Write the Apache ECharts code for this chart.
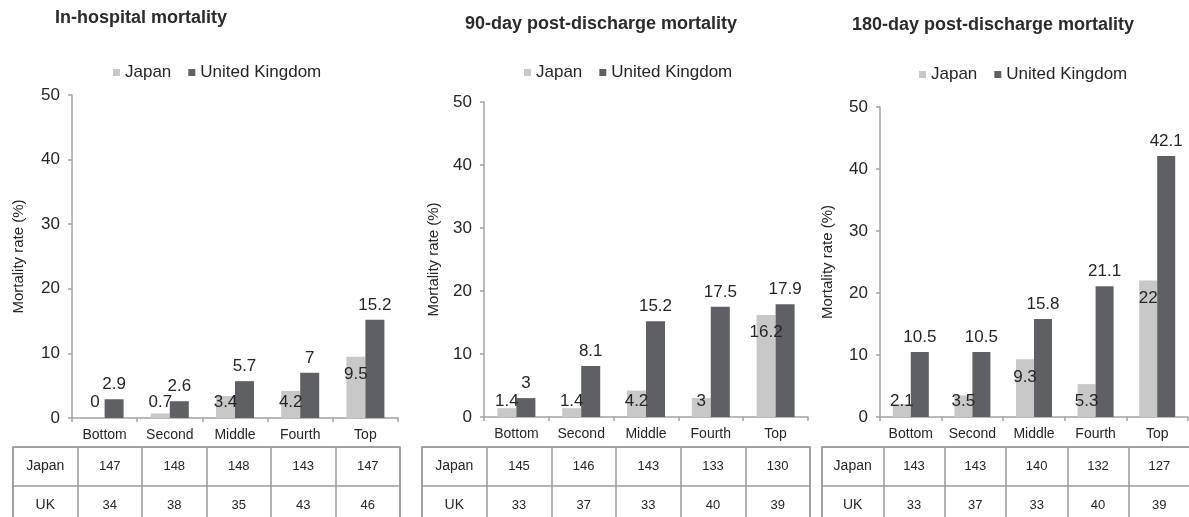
<!DOCTYPE html>
<html>
<head>
<meta charset="utf-8">
<script src="https://cdn.jsdelivr.net/npm/echarts@6/dist/echarts.min.js"></script>
<style>
html,body{margin:0;padding:0;background:#fff;}
#chart{width:1189px;height:517px;}
</style>
</head>
<body>
<div id="chart"></div>
<script>
// ---- data ----
const categories = ['Bottom', 'Second', 'Middle', 'Fourth', 'Top'];
const panelTitles = ['In-hospital mortality', '90-day post-discharge mortality', '180-day post-discharge mortality'];
const seriesNames = ['Japan', 'United Kingdom'];
const rowNames = ['Japan', 'UK'];
const yTicks = [0, 10, 20, 30, 40, 50];

const inHospitalJapan = [0, 0.7, 3.4, 4.2, 9.5];
const inHospitalUK = [2.9, 2.6, 5.7, 7, 15.2];
const day90Japan = [1.4, 1.4, 4.2, 3, 16.2];
const day90UK = [3, 8.1, 15.2, 17.5, 17.9];
const day180Japan = [2.1, 3.5, 9.3, 5.3, 22];
const day180UK = [10.5, 10.5, 15.8, 21.1, 42.1];

const nInHospitalJapan = [147, 148, 148, 143, 147];
const nInHospitalUK = [34, 38, 35, 43, 46];
const nDay90Japan = [145, 146, 143, 133, 130];
const nDay90UK = [33, 37, 33, 40, 39];
const nDay180Japan = [143, 143, 140, 132, 127];
const nDay180UK = [33, 37, 33, 40, 39];

// ---- layout / style ----
const FONT = '"Liberation Sans", Arial, sans-serif';
const TEXT = '#262626';
const AXIS = '#a3a3a3';
const C_JP = '#c8c8c8';
const C_UK = '#5f6064';
const TABLE_LINE = '#9a9a9a';

const panels = [
  { title: panelTitles[0], jp: inHospitalJapan, uk: inHospitalUK, nJp: nInHospitalJapan, nUk: nInHospitalUK,
    titleLeft: 55, titleTop: 9, legendLeft: 113, legendTop: 64,
    grid: { left: 72, top: 95, width: 326, height: 323 }, nameGap: 46, barWidth: 19,
    table: { left: 13, top: 447, width: 387, height: 78 } },
  { title: panelTitles[1], jp: day90Japan, uk: day90UK, nJp: nDay90Japan, nUk: nDay90UK,
    titleLeft: 465, titleTop: 15, legendLeft: 524, legendTop: 64,
    grid: { left: 484, top: 102, width: 324, height: 315 }, nameGap: 43, barWidth: 19,
    table: { left: 422, top: 447, width: 388, height: 78 } },
  { title: panelTitles[2], jp: day180Japan, uk: day180UK, nJp: nDay180Japan, nUk: nDay180UK,
    titleLeft: 852, titleTop: 16, legendLeft: 919, legendTop: 66,
    grid: { left: 880, top: 107, width: 308, height: 310 }, nameGap: 45, barWidth: 18,
    table: { left: 822, top: 447, width: 368, height: 78 } }
];

const option = {
  animation: false,
  backgroundColor: '#fff',
  textStyle: { fontFamily: FONT },
  title: [], legend: [], grid: [], xAxis: [], yAxis: [], series: []
};

panels.forEach((p, k) => {
  option.title.push({
    text: p.title, left: p.titleLeft, top: p.titleTop, padding: 0,
    textStyle: { fontFamily: FONT, fontSize: 18, fontWeight: 'bold', color: '#2b2b2b' }
  });
  option.legend.push({
    data: seriesNames, left: p.legendLeft, top: p.legendTop, padding: 0,
    icon: 'rect', itemWidth: 7, itemHeight: 7, itemGap: 17,
    textStyle: { fontFamily: FONT, fontSize: 17, color: TEXT }
  });
  // bar grid
  option.grid.push(Object.assign({ containLabel: false, outerBoundsMode: 'none' }, p.grid));
  const gi = option.grid.length - 1;
  option.xAxis.push({
    type: 'category', gridIndex: gi, data: categories,
    axisLine: { lineStyle: { color: AXIS, width: 1.5 } },
    axisTick: { show: true, length: 4, lineStyle: { color: AXIS, width: 1.5 } },
    axisLabel: { fontFamily: FONT, fontSize: 14, color: TEXT, margin: 10, interval: 0 }
  });
  option.yAxis.push({
    type: 'value', gridIndex: gi, min: yTicks[0], max: yTicks[yTicks.length - 1], interval: 10,
    name: 'Mortality rate (%)', nameLocation: 'middle', nameGap: p.nameGap, nameRotate: 90,
    nameTextStyle: { fontFamily: FONT, fontSize: 15, color: TEXT },
    axisLine: { show: true, lineStyle: { color: AXIS, width: 1.5 } },
    axisTick: { show: true, length: 4, lineStyle: { color: AXIS, width: 1.5 } },
    axisLabel: { fontFamily: FONT, fontSize: 17, color: TEXT, margin: 12 },
    splitLine: { show: false }
  });
  option.series.push({
    type: 'bar', name: seriesNames[0], xAxisIndex: gi, yAxisIndex: gi,
    barWidth: p.barWidth, barGap: '0%',
    itemStyle: { color: C_JP },
    label: { show: true, fontFamily: FONT, fontSize: 17, color: TEXT },
    data: p.jp.map(v => ({
      value: v,
      label: v > 5 ? { position: 'insideTop', distance: 9 } : { position: 'insideBottom', distance: 7 }
    }))
  });
  option.series.push({
    type: 'bar', name: seriesNames[1], xAxisIndex: gi, yAxisIndex: gi,
    barWidth: p.barWidth, barGap: '0%',
    itemStyle: { color: C_UK },
    label: { show: true, position: 'top', distance: 6, fontFamily: FONT, fontSize: 17, color: TEXT },
    data: p.uk
  });

  // table grid
  option.grid.push(Object.assign({ show: true, borderColor: TABLE_LINE, borderWidth: 1.5, containLabel: false, outerBoundsMode: 'none' }, p.table));
  const ti = option.grid.length - 1;
  option.xAxis.push({
    type: 'category', gridIndex: ti, data: [''].concat(categories),
    axisLine: { show: false }, axisTick: { show: false }, axisLabel: { show: false },
    splitLine: { show: true, lineStyle: { color: TABLE_LINE, width: 1.5 } }
  });
  option.yAxis.push({
    type: 'category', gridIndex: ti, data: rowNames.slice().reverse(),
    axisLine: { show: false }, axisTick: { show: false }, axisLabel: { show: false },
    splitLine: { show: true, lineStyle: { color: TABLE_LINE, width: 1.5 } }
  });
  const cells = [];
  const texts = [];
  rowNames.forEach((rn, r) => {
    const yi = rowNames.length - 1 - r;
    cells.push([0, yi]); texts.push(rn);
    const arr = r === 0 ? p.nJp : p.nUk;
    arr.forEach((n, c) => { cells.push([c + 1, yi]); texts.push(String(n)); });
  });
  option.series.push({
    type: 'custom', xAxisIndex: ti, yAxisIndex: ti, silent: true, clip: false,
    data: cells,
    renderItem: (params, api) => {
      const pt = api.coord([api.value(0), api.value(1)]);
      const isName = api.value(0) === 0;
      return {
        type: 'text', x: pt[0], y: pt[1],
        style: {
          text: texts[params.dataIndex], textAlign: 'center', textVerticalAlign: 'middle',
          font: (isName ? '14px ' : '13px ') + FONT, fill: TEXT
        }
      };
    }
  });
});

const chart = echarts.init(document.getElementById('chart'), null, { renderer: 'canvas' });
chart.setOption(option);
</script>
</body>
</html>
